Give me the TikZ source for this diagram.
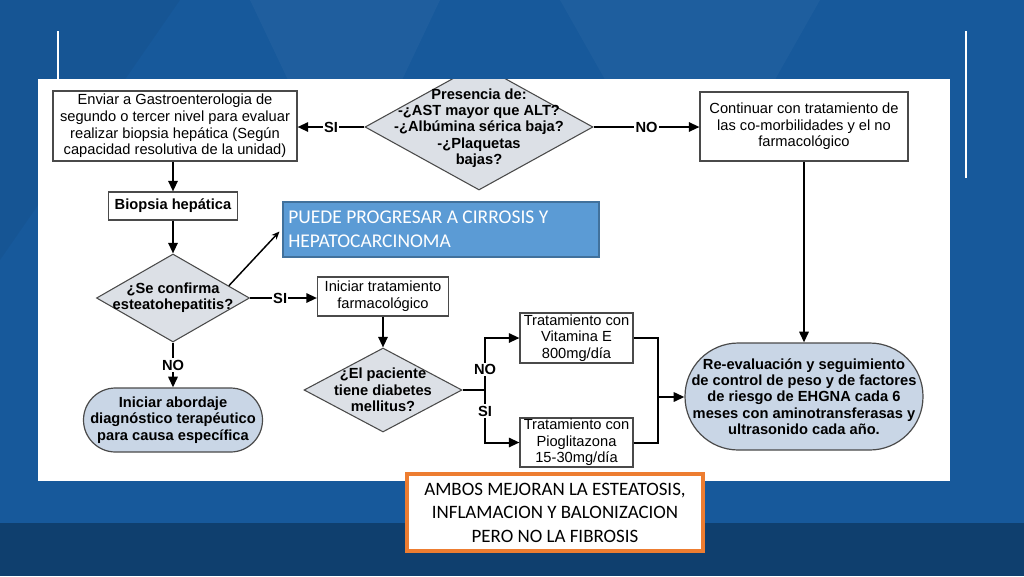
\documentclass[tikz,border=0pt]{standalone}
\usepackage{fontspec}
\setmainfont{Liberation Sans}
\newfontfamily\calfont{Carlito}
\usetikzlibrary{shapes.geometric,arrows.meta,calc}
\definecolor{bgblue}{HTML}{17599B}
\definecolor{bgdark}{HTML}{0F3F6E}
\definecolor{boxgray}{HTML}{4A4A4A}
\definecolor{diafill}{HTML}{DCE0E6}
\definecolor{termfill}{HTML}{C9D6E6}
\definecolor{callfill}{HTML}{5B9BD5}
\definecolor{callline}{HTML}{41719C}
\definecolor{orangeline}{HTML}{ED7D31}
\begin{document}
\begin{tikzpicture}[x=0.75pt,y=-0.75pt,
  txt/.style={font=\fontsize{11}{12.5}\selectfont},
  btxt/.style={font=\bfseries\fontsize{11}{12.2}\selectfont},
  box/.style={draw=boxgray, fill=white, line width=0.8pt, inner sep=0pt, align=center},
  dia/.style={diamond, draw=boxgray, fill=diafill, line width=0.8pt, inner sep=0pt},
  term/.style={draw=boxgray, fill=termfill, line width=0.9pt, inner sep=0pt, align=center},
  conn/.style={line width=1.5pt, -{Triangle[length=8pt,width=7pt]}},
  plain/.style={line width=1.5pt},
  lbl/.style={fill=white, inner sep=1pt, font=\bfseries\fontsize{11}{12}\selectfont}]
\useasboundingbox (0,0) rectangle (1024,576);
% background
\fill[bgblue] (0,0) rectangle (1024,576);
\fill[white, opacity=0.035] (250,0) -- (440,0) -- (345,200) -- cycle;
\fill[white, opacity=0.03] (560,0) -- (820,0) -- (690,230) -- cycle;
\fill[black, opacity=0.04] (0,0) -- (180,0) -- (0,260) -- cycle;
\fill[bgdark] (0,523) rectangle (1024,576);
\draw[white, line width=1.5pt] (58,31) -- (58,79);
\draw[white, line width=1.5pt] (966,31) -- (966,178);
% panel
\fill[white] (38,79) rectangle (950,481);

% nodes
\node[box, txt, minimum width=183pt, minimum height=52.5pt] (enviar) at (175,126)
  {Enviar a Gastroenterologia de\\segundo o tercer nivel para evaluar\\realizar biopsia hepática (Según\\capacidad resolutiva de la unidad)};
\begin{scope}
\clip (38,79) rectangle (950,481);
\node[dia, minimum width=171pt, minimum height=94.5pt] (pres) at (479,127) {};
\end{scope}
\node[btxt, align=center] (prestxt) at (479,128)
  {Presencia de:\\-¿AST mayor que ALT?\\-¿Albúmina sérica baja?\\-¿Plaquetas\\bajas?};
\node[box, txt, minimum width=156pt, minimum height=51.75pt] (cont) at (804,126.5)
  {Continuar con tratamiento de\\las co-morbilidades y el no\\farmacológico};
\node[box, btxt, minimum width=96.75pt, minimum height=21pt] (biop) at (173,206) {Biopsia hepática};
\node[dia, minimum width=114.75pt, minimum height=66pt] (conf) at (173,298) {};
\node[btxt, align=center] (conftxt) at (173,298) {¿Se confirma\\esteatohepatitis?};
\node[draw=callline, fill=callfill, line width=0.8pt, minimum width=237pt, minimum height=41.25pt,
      text width=229pt, inner sep=0pt, align=flush left, text=white,
      font=\calfont\fontsize{14.6}{18}\selectfont] (call) at (441,229.5)
  {PUEDE PROGRESAR A CIRROSIS Y\\HEPATOCARCINOMA};
\node[box, txt, minimum width=98.25pt, minimum height=29.25pt] (initr) at (383,296.5)
  {Iniciar tratamiento\\farmacológico};
\node[dia, minimum width=118.5pt, minimum height=63pt] (diab) at (383,390) {};
\node[btxt, align=center] (diabtxt) at (383,390) {¿El paciente\\tiene diabetes\\mellitus?};
\node[box, txt, minimum width=84.75pt, minimum height=37.5pt] (vit) at (576.5,338)
  {Tratamiento con\\Vitamina E\\800mg/día};
\node[box, txt, minimum width=84.75pt, minimum height=36.75pt] (pio) at (576.5,442.5)
  {Tratamiento con\\Pioglitazona\\15-30mg/día};
\node[term, btxt, minimum width=178.5pt, minimum height=80.25pt, rounded corners=40pt] (reev) at (804,396.5)
  {Re-evaluación y seguimiento\\de control de peso y de factores\\de riesgo de EHGNA cada 6\\meses con aminotransferasas y\\ultrasonido cada año.};
\node[term, btxt, minimum width=134.25pt, minimum height=48pt, rounded corners=24pt] (abor) at (173,420)
  {Iniciar abordaje\\diagnóstico terapéutico\\para causa específica};
\node[draw=orangeline, fill=white, line width=3pt, minimum width=222pt, minimum height=58pt,
      inner sep=0pt, align=center, font=\calfont\fontsize{14.2}{17.6}\selectfont] (ambos) at (555,512.5)
  {AMBOS MEJORAN LA ESTEATOSIS,\\INFLAMACION Y BALONIZACION\\PERO NO LA FIBROSIS};

% connectors
\draw[conn] (pres.west) -- node[lbl] {SI} (enviar.east |- pres.west);
\draw[conn] (pres.east) -- node[lbl] {NO} (cont.west |- pres.east);
\draw[conn] (cont.south) -- (reev.north);
\draw[conn] (enviar.south -| biop.north) -- (biop.north);
\draw[conn] (biop.south) -- (conf.north);
\draw[line width=1.1pt, -{Stealth[length=6pt,width=5pt]}] ($(conf.north east)!0.45!(conf.east)$) -- ($(call.west)+(-3,2)$);
\draw[conn] (conf.east) -- node[lbl, pos=0.45] {SI} (initr.west |- conf.east);
\draw[conn] (conf.south) -- node[lbl] {NO} (abor.north);
\draw[conn] (initr.south) -- (diab.north);
\coordinate (jl) at (485,390);
\coordinate (jr) at (658,397);
\draw[plain] (diab.east) -- (jl);
\draw[conn] (jl) -- node[lbl, pos=0.4] {NO} (485,338) -- (vit.west);
\draw[conn] (jl) -- node[lbl, pos=0.4] {SI} (485,442.5) -- (pio.west);
\draw[plain] (vit.east) -| (jr);
\draw[plain] (pio.east) -| (jr);
\draw[conn] (jr) -- (reev.west |- jr);
\end{tikzpicture}
\end{document}
